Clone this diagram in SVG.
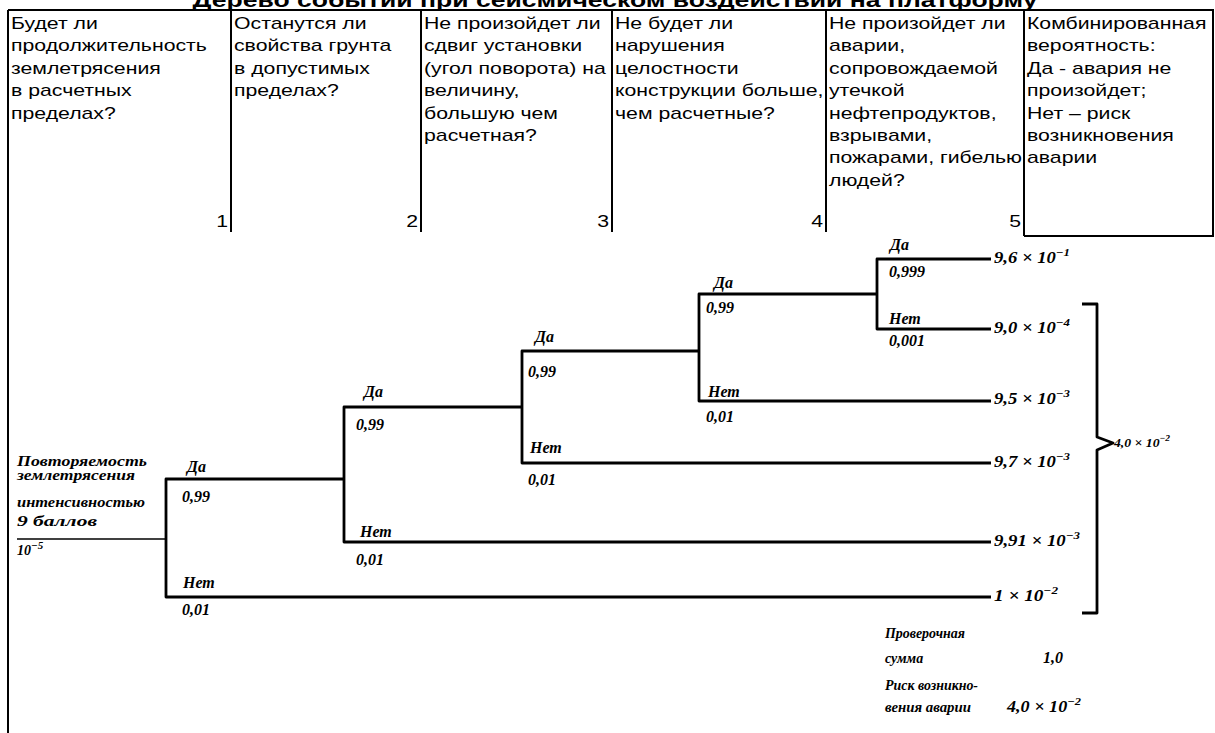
<svg xmlns="http://www.w3.org/2000/svg" width="1215" height="733" viewBox="0 0 1215 733">
<style>
.h{font-family:"Liberation Sans",Arial,sans-serif;font-size:17px;fill:#000}
.t{font-family:"Liberation Sans",Arial,sans-serif;font-size:21px;font-weight:bold;fill:#000}
.grid{stroke:#000;stroke-width:2;fill:none}
.br{stroke:#000;stroke-width:2.8;fill:none;stroke-linejoin:round}
.lbl{font-family:"Liberation Serif","Times New Roman",serif;font-style:italic;font-weight:bold;font-size:16px;fill:#000}
.val{font-family:"Liberation Serif","Times New Roman",serif;font-style:italic;font-weight:bold;font-size:16px;fill:#000}
.sm{font-family:"Liberation Serif","Times New Roman",serif;font-style:italic;font-weight:bold;font-size:14px;fill:#000}
.sup{font-size:11px}
</style>
<rect x="0" y="0" width="1215" height="733" fill="#fff"/>
<text id="title" class="t" x="615" y="7" text-anchor="middle" textLength="845" lengthAdjust="spacingAndGlyphs">Дерево событий при сейсмическом воздействии на платформу</text>
<g id="table">
<path class="grid" d="M8,10 H1213 V236 H1024 M8,10 V733 M231,10 V232 M421,10 V232 M612,10 V232 M826,10 V232 M1024,10 V236"/>
</g>
<g id="col1" class="h" transform="translate(11 0) scale(1.25 1)">
<text x="0" y="29">Будет ли</text>
<text x="0" y="51.4">продолжительность</text>
<text x="0" y="73.8">землетрясения</text>
<text x="0" y="96.2">в расчетных</text>
<text x="0" y="118.6">пределах?</text>
<text x="173.6" y="227" text-anchor="end">1</text>
</g>
<g id="col2" class="h" transform="translate(234 0) scale(1.25 1)">
<text x="0" y="29">Останутся ли</text>
<text x="0" y="51.4">свойства грунта</text>
<text x="0" y="73.8">в допустимых</text>
<text x="0" y="96.2">пределах?</text>
<text x="147.2" y="227" text-anchor="end">2</text>
</g>
<g id="col3" class="h" transform="translate(424 0) scale(1.25 1)">
<text x="0" y="29">Не произойдет ли</text>
<text x="0" y="51.4">сдвиг установки</text>
<text x="0" y="73.8">(угол поворота) на</text>
<text x="0" y="96.2">величину,</text>
<text x="0" y="118.6">большую чем</text>
<text x="0" y="141">расчетная?</text>
<text x="148" y="227" text-anchor="end">3</text>
</g>
<g id="col4" class="h" transform="translate(615 0) scale(1.25 1)">
<text x="0" y="29">Не будет ли</text>
<text x="0" y="51.4">нарушения</text>
<text x="0" y="73.8">целостности</text>
<text x="0" y="96.2">конструкции больше,</text>
<text x="0" y="118.6">чем расчетные?</text>
<text x="166.4" y="227" text-anchor="end">4</text>
</g>
<g id="col5" class="h" transform="translate(829 0) scale(1.25 1)">
<text x="0" y="29">Не произойдет ли</text>
<text x="0" y="51.4">аварии,</text>
<text x="0" y="73.8">сопровождаемой</text>
<text x="0" y="96.2">утечкой</text>
<text x="0" y="118.6">нефтепродуктов,</text>
<text x="0" y="141">взрывами,</text>
<text x="0" y="163.4">пожарами, гибелью</text>
<text x="0" y="185.8">людей?</text>
<text x="153.6" y="227" text-anchor="end">5</text>
</g>
<g id="col6" class="h" transform="translate(1027 0) scale(1.25 1)">
<text x="0" y="29">Комбинированная</text>
<text x="0" y="51.4">вероятность:</text>
<text x="0" y="73.8">Да - авария не</text>
<text x="0" y="96.2">произойдет;</text>
<text x="0" y="118.6">Нет – риск</text>
<text x="0" y="141">возникновения</text>
<text x="0" y="163.4">аварии</text>
</g>
<g id="connectors">
<path d="M17,539 H166" stroke="#000" stroke-width="1.6" fill="none"/>
<path class="br" d="M344,479 H166 V597 H991"/>
<path class="br" d="M522,407 H344 V542 H991"/>
<path class="br" d="M699,351 H522 V463 H991"/>
<path class="br" d="M877,294 H699 V401 H991"/>
<path class="br" d="M991,259 H877 V329 H991"/>
<path class="br" stroke-width="3" d="M1082,304 H1097 V437 L1113,443 L1097,450 V613 H1082" stroke-linejoin="miter"/>
</g>
<g id="root">
<text class="sm" x="17" y="466" textLength="130" lengthAdjust="spacingAndGlyphs">Повторяемость</text>
<text class="sm" x="17" y="480" textLength="118" lengthAdjust="spacingAndGlyphs">землетрясения</text>
<text class="sm" x="17" y="507" textLength="128" lengthAdjust="spacingAndGlyphs">интенсивностью</text>
<text class="sm" x="17" y="526" textLength="80" lengthAdjust="spacingAndGlyphs">9 баллов</text>
<text class="sm" x="17" y="555">10<tspan class="sup" dy="-6">−5</tspan></text>
</g>
<g id="node1">
<text class="lbl" x="187" y="472">Да</text>
<text class="lbl" x="182" y="502">0,99</text>
<text class="lbl" x="183" y="588">Нет</text>
<text class="lbl" x="182" y="615">0,01</text>
</g>
<g id="node2">
<text class="lbl" x="364" y="397">Да</text>
<text class="lbl" x="356" y="430">0,99</text>
<text class="lbl" x="360" y="537">Нет</text>
<text class="lbl" x="356" y="565">0,01</text>
</g>
<g id="node3">
<text class="lbl" x="535" y="342">Да</text>
<text class="lbl" x="528" y="377">0,99</text>
<text class="lbl" x="530" y="453">Нет</text>
<text class="lbl" x="528" y="485">0,01</text>
</g>
<g id="node4">
<text class="lbl" x="714" y="288">Да</text>
<text class="lbl" x="706" y="313">0,99</text>
<text class="lbl" x="708" y="397">Нет</text>
<text class="lbl" x="706" y="422">0,01</text>
</g>
<g id="node5">
<text class="lbl" x="890" y="250">Да</text>
<text class="lbl" x="889" y="277">0,999</text>
<text class="lbl" x="889" y="324">Нет</text>
<text class="lbl" x="889" y="346">0,001</text>
</g>
<g id="outcomes">
<text class="val" x="994" y="263" textLength="76" lengthAdjust="spacingAndGlyphs">9,6 × 10<tspan class="sup" dy="-7">−1</tspan></text>
<text class="val" x="994" y="333" textLength="76" lengthAdjust="spacingAndGlyphs">9,0 × 10<tspan class="sup" dy="-7">−4</tspan></text>
<text class="val" x="994" y="404" textLength="76" lengthAdjust="spacingAndGlyphs">9,5 × 10<tspan class="sup" dy="-7">−3</tspan></text>
<text class="val" x="994" y="467" textLength="76" lengthAdjust="spacingAndGlyphs">9,7 × 10<tspan class="sup" dy="-7">−3</tspan></text>
<text class="val" x="994" y="546" textLength="86" lengthAdjust="spacingAndGlyphs">9,91 × 10<tspan class="sup" dy="-7">−3</tspan></text>
<text class="val" x="994" y="601" textLength="64" lengthAdjust="spacingAndGlyphs">1 × 10<tspan class="sup" dy="-7">−2</tspan></text>
</g>
<g id="total">
<text class="val" x="1114" y="447" style="font-size:13px" textLength="56" lengthAdjust="spacingAndGlyphs">4,0 × 10<tspan style="font-size:9px" dy="-6">−2</tspan></text>
</g>
<g id="summary">
<text class="sm" x="885" y="638" textLength="80" lengthAdjust="spacingAndGlyphs">Проверочная</text>
<text class="sm" x="885" y="663">сумма</text>
<text class="lbl" x="1043" y="663">1,0</text>
<text class="sm" x="885" y="690" textLength="93" lengthAdjust="spacingAndGlyphs">Риск возникно-</text>
<text class="sm" x="885" y="712" textLength="86" lengthAdjust="spacingAndGlyphs">вения аварии</text>
<text class="val" x="1007" y="712" textLength="74" lengthAdjust="spacingAndGlyphs">4,0 × 10<tspan class="sup" dy="-7">−2</tspan></text>
</g>
</svg>
